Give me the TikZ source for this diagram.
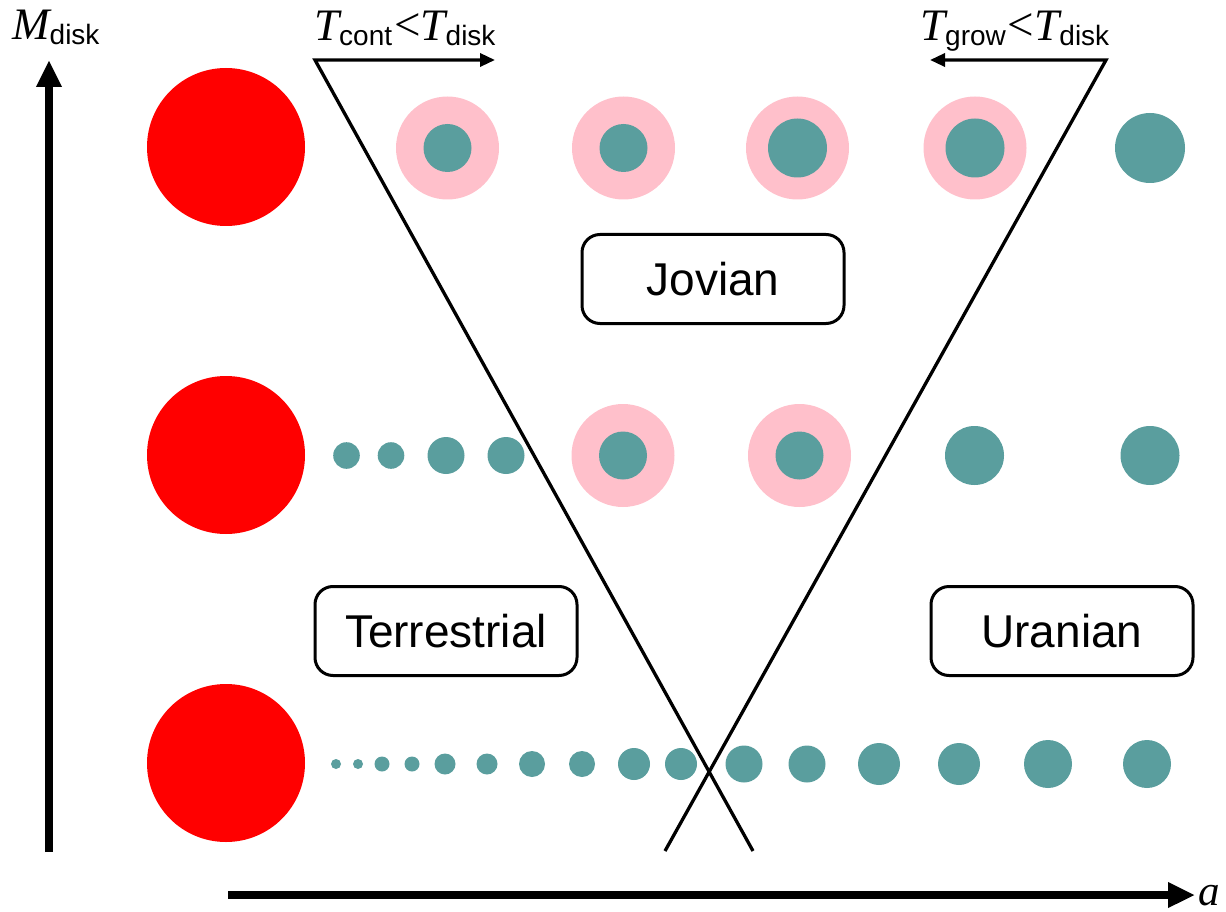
\documentclass[tikz,border=0pt]{standalone}
\usepackage{fontspec}
\setmainfont{Liberation Serif}
\setsansfont{Liberation Sans}
\usetikzlibrary{arrows.meta}
\definecolor{tealdot}{HTML}{5A9E9E}
\definecolor{ringpink}{HTML}{FFC0CB}
\definecolor{bigred}{HTML}{FF0000}
\newcommand{\mysub}[1]{\raisebox{-5pt}{\fontsize{28}{28}\selectfont\sffamily\upshape #1}}
\newcommand{\mylt}{\kern2pt{\upshape\fontsize{47}{47}\selectfont<}}
\tikzset{
  axis/.style={line width=7.5pt, -{Triangle[length=27pt,width=24pt]}},
  vline/.style={line width=3.3pt, line join=miter},
  regionbox/.style={draw, line width=3pt, rounded corners=18pt, minimum width=262pt, minimum height=89pt, inner sep=0pt, font=\fontsize{46}{46}\selectfont\sffamily},
  lab/.style={anchor=base west, inner sep=0pt, font=\fontsize{45}{45}\selectfont},
}
\begin{document}
\begin{tikzpicture}[x=1pt,y=-1pt]
\useasboundingbox (0,0) rectangle (1226,912);
% axes
\coordinate (vb) at (49,852);
\coordinate (vt) at (49,60);
\coordinate (hl) at (228,895);
\coordinate (hr) at (1195,895);
\draw[axis] (vb) -- (vt);
\draw[axis] (hl) -- (hr);
\node[lab] (mdisk) at (12,40) {\itshape M\mysub{disk}};
\node[lab, font=\fontsize{43}{43}\selectfont] (aa) at (1198,905) {\itshape a};
% red stars
\foreach \yy in {147,455,763} \fill[bigred] (226,\yy) circle (79pt);
% row 1
\foreach \xx/\rr in {447.5/24,623.5/24,797.5/29.5,975/29.5}{
  \fill[ringpink] (\xx,148) circle (51.5pt);
  \fill[tealdot] (\xx,148) circle (\rr pt);
}
\fill[tealdot] (1150,148) circle (35pt);
% row 2
\foreach \xx/\rr in {346.5/13.3,391/13.3,446/18.5,506/18.5,974.5/29.5,1150/29.5}
  \fill[tealdot] (\xx,455.5) circle (\rr pt);
\foreach \xx in {623,799.5}{
  \fill[ringpink] (\xx,455.5) circle (51.5pt);
  \fill[tealdot] (\xx,455.5) circle (24pt);
}
% row 3
\foreach \xx/\rr in {336/5,358/5,382/7.5,412/7.5,445/10.5,487/10.5,532/13,582/13,634/16,681/16,744/18.5,807/18.5,879/21,959/21,1048/24,1147/24}
  \fill[tealdot] (\xx,764) circle (\rr pt);
% boundary lines with arrows
\coordinate (tcEnd) at (495,60);
\coordinate (apexL) at (315,60);
\coordinate (botL) at (753,851);
\coordinate (tgEnd) at (930,60);
\coordinate (apexR) at (1106,60);
\coordinate (botR) at (665,851);
\draw[vline, {Triangle[length=15pt,width=13pt]}-] (tcEnd) -- (apexL) -- (botL);
\draw[vline, {Triangle[length=15pt,width=13pt]}-] (tgEnd) -- (apexR) -- (botR);
\node[lab] (tcont) at (314,41) {\itshape T\mysub{cont}\mylt\itshape T\mysub{disk}};
\node[lab] (tgrow) at (920,41) {\itshape T\mysub{grow}\mylt\itshape T\mysub{disk}};
% region boxes
\node[regionbox, fill=white] (jov) at (713,279) {Jovian};
\node[regionbox, fill=white] (ter) at (446,631) {Terrestrial};
\node[regionbox, fill=white] (ura) at (1062,631) {Uranian};
\end{tikzpicture}
\end{document}
